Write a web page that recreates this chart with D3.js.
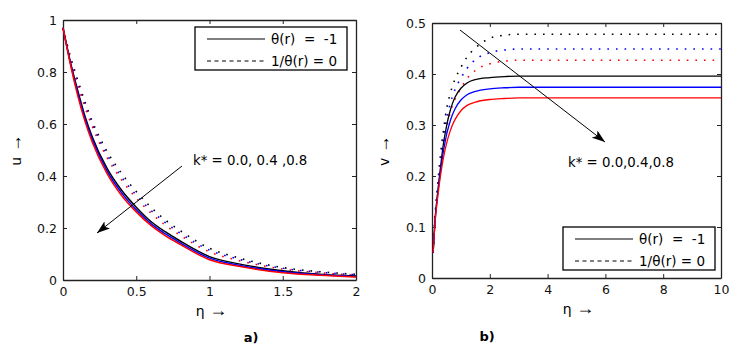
<!DOCTYPE html>
<html>
<head>
<meta charset="utf-8">
<script src="https://cdn.jsdelivr.net/npm/d3@7"></script>
<style>
  body { margin: 0; background: #fff; }
  text { font-family: "DejaVu Sans", Arial, sans-serif; }
</style>
</head>
<body>
<script>
  // ---- data ----
  // panel a) u(eta), k* = 0.0, 0.4, 0.8
  const etaA = [0, 0.05, 0.1, 0.15, 0.2, 0.3, 0.4, 0.5, 0.6, 0.7, 0.8, 1.0, 1.2, 1.5, 1.75, 2];
  const uSolid0 = [0.97, 0.84, 0.73, 0.63, 0.55, 0.43, 0.345, 0.28, 0.225, 0.185, 0.15, 0.09, 0.062, 0.036, 0.022, 0.015];
  const uSolid4 = [0.97, 0.835, 0.72, 0.62, 0.54, 0.42, 0.335, 0.27, 0.217, 0.177, 0.143, 0.084, 0.057, 0.032, 0.02, 0.013];
  const uSolid8 = [0.97, 0.83, 0.71, 0.61, 0.53, 0.41, 0.325, 0.262, 0.21, 0.17, 0.137, 0.078, 0.053, 0.028, 0.018, 0.012];
  const uDot0 = [0.97, 0.86, 0.77, 0.685, 0.61, 0.495, 0.41, 0.34, 0.28, 0.23, 0.19, 0.122, 0.085, 0.048, 0.032, 0.022];
  const uDot4 = [0.97, 0.855, 0.76, 0.675, 0.6, 0.483, 0.396, 0.326, 0.268, 0.22, 0.18, 0.115, 0.08, 0.045, 0.03, 0.02];
  const uDot8 = [0.97, 0.85, 0.75, 0.665, 0.59, 0.472, 0.385, 0.315, 0.258, 0.21, 0.172, 0.108, 0.075, 0.042, 0.028, 0.018];

  // panel b) v(eta)
  const etaB = [0.04, 0.1, 0.2, 0.3, 0.4, 0.5, 0.6, 0.7, 0.8, 1.0, 1.2, 1.5, 2, 2.5, 3, 4, 6, 10];
  const vSolid0 = [0.05, 0.11, 0.17, 0.22, 0.265, 0.297, 0.322, 0.341, 0.355, 0.372, 0.382, 0.389, 0.393, 0.395, 0.396, 0.396, 0.396, 0.396];
  const vSolid4 = [0.05, 0.108, 0.165, 0.212, 0.25, 0.28, 0.302, 0.319, 0.332, 0.349, 0.359, 0.366, 0.371, 0.373, 0.374, 0.374, 0.374, 0.374];
  const vSolid8 = [0.05, 0.105, 0.16, 0.203, 0.237, 0.263, 0.283, 0.299, 0.311, 0.328, 0.338, 0.345, 0.35, 0.352, 0.353, 0.353, 0.353, 0.353];
  const vDot0 = [0.05, 0.115, 0.185, 0.245, 0.29, 0.33, 0.355, 0.375, 0.39, 0.413, 0.432, 0.451, 0.47, 0.476, 0.478, 0.478, 0.478, 0.478];
  const vDot4 = [0.05, 0.112, 0.178, 0.233, 0.275, 0.31, 0.335, 0.355, 0.37, 0.392, 0.41, 0.428, 0.442, 0.447, 0.449, 0.449, 0.449, 0.449];
  const vDot8 = [0.05, 0.11, 0.172, 0.222, 0.262, 0.293, 0.318, 0.337, 0.351, 0.372, 0.39, 0.407, 0.42, 0.425, 0.427, 0.427, 0.427, 0.427];

  const colors = ['#000000', '#0000ff', '#ff0000'];
  const ticksA = { x: [0, 0.5, 1, 1.5, 2], y: [0, 0.2, 0.4, 0.6, 0.8, 1] };
  const ticksB = { x: [0, 2, 4, 6, 8, 10], y: [0, 0.1, 0.2, 0.3, 0.4, 0.5] };
  const legendLabels = ['θ(r)  =  -1', '1/θ(r) = 0'];

  const width = 739;
  const height = 353;

  const svg = d3.select('body')
    .append('svg')
    .attr('width', width)
    .attr('height', height);

  svg.append('defs')
    .append('marker')
    .attr('id', 'arrow')
    .attr('viewBox', '0 0 13 9')
    .attr('refX', 13)
    .attr('refY', 4.5)
    .attr('markerWidth', 13)
    .attr('markerHeight', 9)
    .attr('markerUnits', 'userSpaceOnUse')
    .attr('orient', 'auto')
    .append('path')
    .attr('d', 'M0,0 L13,4.5 L0,9 L3,4.5 Z')
    .attr('fill', '#000');

  // "η →" style label with a larger arrow glyph
  const arrowLabel = (text, letter) => {
    text.append('tspan').text(letter + ' ');
    text.append('tspan').attr('font-size', 18).attr('font-family', '"Liberation Serif", serif').text('→');
  };

  const drawPanel = (opts) => {
    const g = svg.append('g');
    const xScale = d3.scaleLinear().domain(opts.xDomain).range([opts.left, opts.right]);
    const yScale = d3.scaleLinear().domain(opts.yDomain).range([opts.bottom, opts.top]);

    // frame with inward ticks on all four sides
    g.append('g')
      .attr('transform', `translate(0,${opts.bottom})`)
      .call(d3.axisBottom(xScale).tickValues(opts.ticks.x).tickSizeInner(-4).tickSizeOuter(0).tickPadding(7).tickFormat(d3.format('')));
    g.append('g')
      .attr('transform', `translate(0,${opts.top})`)
      .call(d3.axisTop(xScale).tickValues(opts.ticks.x).tickSizeInner(-4).tickSizeOuter(0).tickFormat(''));
    g.append('g')
      .attr('transform', `translate(${opts.left},0)`)
      .call(d3.axisLeft(yScale).tickValues(opts.ticks.y).tickSizeInner(-4).tickSizeOuter(0).tickPadding(6).tickFormat(d3.format('')));
    g.append('g')
      .attr('transform', `translate(${opts.right},0)`)
      .call(d3.axisRight(yScale).tickValues(opts.ticks.y).tickSizeInner(-4).tickSizeOuter(0).tickFormat(''));

    g.selectAll('.domain').attr('stroke', '#222').attr('stroke-width', 1.3);
    g.selectAll('.tick line').attr('stroke', '#222');
    g.selectAll('.tick text').attr('font-size', 12.5).attr('fill', '#111')
      .attr('font-family', '"DejaVu Sans", Arial, sans-serif');

    const line = d3.line()
      .x((d) => xScale(d[0]))
      .y((d) => yScale(d[1]))
      .curve(d3.curveMonotoneX);

    const series = [];
    opts.dotted.forEach((vals, i) => series.push({ vals, color: colors[i], dotted: true }));
    opts.solid.forEach((vals, i) => series.push({ vals, color: colors[i], dotted: false }));

    g.selectAll('path.curve')
      .data(series)
      .join('path')
      .attr('class', 'curve')
      .attr('fill', 'none')
      .attr('stroke', (d) => d.color)
      .attr('stroke-width', (d) => (d.dotted ? 1.6 : opts.lineWidth))
      .attr('stroke-dasharray', (d) => (d.dotted ? '1.6 7' : null))
      .attr('d', (d) => line(opts.eta.map((e, i) => [e, d.vals[i]])));

    // legend
    const lg = g.append('g').attr('transform', `translate(${opts.legend[0]},${opts.legend[1]})`);
    lg.append('rect')
      .attr('width', 152).attr('height', 43)
      .attr('fill', '#fff').attr('stroke', '#000').attr('stroke-width', 1.3);
    lg.selectAll('line.key')
      .data(legendLabels)
      .join('line')
      .attr('class', 'key')
      .attr('x1', 12).attr('x2', 70)
      .attr('y1', (d, i) => 12 + i * 22).attr('y2', (d, i) => 12 + i * 22)
      .attr('stroke', '#000').attr('stroke-width', 1.1)
      .attr('stroke-dasharray', (d, i) => (i ? '4 3.5' : null));
    lg.selectAll('text.key')
      .data(legendLabels)
      .join('text')
      .attr('class', 'key')
      .attr('x', 76)
      .attr('y', (d, i) => 17 + i * 22)
      .attr('font-size', 13.5)
      .style('white-space', 'pre')
      .attr('xml:space', 'preserve')
      .text((d) => d);

    // k* arrow + label
    g.append('line')
      .attr('x1', opts.arrow[0]).attr('y1', opts.arrow[1])
      .attr('x2', opts.arrow[2]).attr('y2', opts.arrow[3])
      .attr('stroke', '#000').attr('stroke-width', 1)
      .attr('marker-end', 'url(#arrow)');
    g.append('text')
      .attr('x', opts.kText[0]).attr('y', opts.kText[1])
      .attr('font-size', 13.3)
      .text(opts.kLabel);

    // axis labels
    g.append('text')
      .attr('x', (opts.left + opts.right) / 2 + 2)
      .attr('y', opts.bottom + 36)
      .attr('text-anchor', 'middle')
      .attr('font-size', 14)
      .call(arrowLabel, 'η');
    g.append('text')
      .attr('transform', `translate(${opts.yLabelX},${(opts.top + opts.bottom) / 2}) rotate(-90)`)
      .attr('text-anchor', 'middle')
      .attr('font-size', 14)
      .call(arrowLabel, opts.yLabel);
    g.append('text')
      .attr('x', opts.caption[0]).attr('y', opts.caption[1])
      .attr('text-anchor', 'middle')
      .attr('font-family', '"Liberation Serif", "Times New Roman", serif')
      .attr('font-weight', 'bold')
      .attr('font-size', 13)
      .text(opts.captionText);
  };

  drawPanel({
    left: 63, right: 356, top: 20, bottom: 280,
    xDomain: [0, 2], yDomain: [0, 1], ticks: ticksA,
    eta: etaA,
    solid: [uSolid0, uSolid4, uSolid8],
    dotted: [uDot0, uDot4, uDot8],
    lineWidth: 1.5,
    legend: [195, 27],
    arrow: [182, 166, 97, 233],
    kText: [193, 165], kLabel: 'k* = 0.0, 0.4 ,0.8',
    yLabel: 'u', yLabelX: 21,
    caption: [251, 342], captionText: 'a)'
  });

  drawPanel({
    left: 432, right: 721, top: 23, bottom: 278,
    xDomain: [0, 10], yDomain: [0, 0.5], ticks: ticksB,
    eta: etaB,
    solid: [vSolid0, vSolid4, vSolid8],
    dotted: [vDot0, vDot4, vDot8],
    lineWidth: 1.3,
    legend: [563, 227],
    arrow: [460, 30, 605, 142],
    kText: [568, 167], kLabel: 'k* = 0.0,0.4,0.8',
    yLabel: 'v', yLabelX: 389,
    caption: [487, 341], captionText: 'b)'
  });
</script>
</body>
</html>
